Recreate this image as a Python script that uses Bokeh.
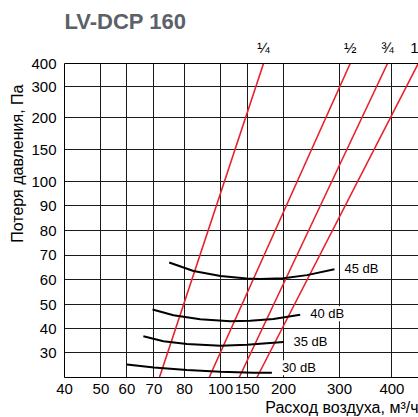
import numpy as np
from bokeh.plotting import figure
from bokeh.models import Range1d, FixedTicker, CustomJSTickFormatter, Label, LinearAxis, Title
from bokeh.embed import file_html
from bokeh.resources import INLINE

# ---- printed (non-uniform) axis scales: tick values and their grid positions ----
x_tick_values = [40, 50, 60, 70, 80, 100, 150, 200, 300, 400]
x_tick_pos = [0, 36.4, 62.4, 89.4, 120, 156, 182.7, 219, 275, 327.4]
y_tick_values = [20, 30, 40, 50, 60, 70, 80, 90, 100, 150, 200, 300, 400]
y_tick_pos = [0, 24.6, 49, 73, 98, 122.3, 147, 172, 196, 228, 259.6, 291, 314]

# ---- damper position lines (flow m3/h at 20 Pa and at 400 Pa) ----
damper_labels = ["¼", "½", "¾", "1"]
damper_flow_low = [71.8, 93.7, 135, 163.4]
damper_flow_high = [172.5, 320.4, 391.6, 450.2]
damper_p_low = 20
damper_p_high = 400

# ---- sound level curves ----
db_labels = ["45 dB", "40 dB", "35 dB", "30 dB"]
db45_flow = [75, 85, 100, 149, 168, 200, 242, 291]
db45_p = [67.0, 63.5, 61.4, 60.4, 60.2, 60.5, 61.8, 64.2]
db40_flow = [69.5, 76.4, 88.7, 118.2, 154.1, 186.2, 229.8]
db40_p = [47.9, 45.5, 43.9, 43.0, 43.2, 44.0, 45.7]
db35_flow = [66.1, 73.1, 81.3, 100, 149.4, 200]
db35_p = [36.8, 34.8, 33.6, 32.9, 33.3, 34.5]
db30_flow = [60, 70, 81.3, 100, 158.7, 184]
db30_p = [25.3, 24.1, 23.0, 22.3, 21.9, 21.9]
db_flows = [db45_flow, db40_flow, db35_flow, db30_flow]
db_ps = [db45_p, db40_p, db35_p, db30_p]


def to_axis(v, vals, pos):
    v = np.asarray(v, dtype=float)
    out = np.interp(v, vals, pos)
    hi = v > vals[-1]
    out[hi] = pos[-1] + (v[hi] - vals[-1]) * (pos[-1] - pos[-2]) / (vals[-1] - vals[-2])
    lo = v < vals[0]
    out[lo] = pos[0] + (v[lo] - vals[0]) * (pos[1] - pos[0]) / (vals[1] - vals[0])
    return out


def X(v):
    return to_axis(v, x_tick_values, x_tick_pos)


def Y(v):
    return to_axis(v, y_tick_values, y_tick_pos)


FONT = "Liberation Sans"

p = figure(frame_width=354, frame_height=314, x_range=Range1d(0, 354), y_range=Range1d(0, 314),
           output_backend="svg", toolbar_location=None,
           min_border_left=64, min_border_right=0, min_border_top=63, min_border_bottom=40)
p.background_fill_color = "white"
p.border_fill_color = "white"
p.outline_line_color = None

# main title
p.title.text = "LV-DCP 160"
p.title.text_font = FONT
p.title.text_font_size = "22px"
p.title.text_font_style = "bold"
p.title.text_color = "#5a6169"
p.title.align = "left"
p.title.standoff = 4

fmt_code = """
let i = -1;
for (let k = 0; k < pos.length; k++) { if (Math.abs(pos[k] - tick) < 0.01) { i = k; } }
return i >= 0 ? String(lab[i]) : '';
"""
xt_pos = x_tick_pos
xt_lab = [str(v) for v in x_tick_values]
yt_pos = y_tick_pos[1:]
yt_lab = [str(v) for v in y_tick_values[1:]]

p.xaxis.ticker = FixedTicker(ticks=xt_pos)
p.xaxis.formatter = CustomJSTickFormatter(args=dict(pos=xt_pos, lab=xt_lab), code=fmt_code)
p.yaxis.ticker = FixedTicker(ticks=yt_pos)
p.yaxis.formatter = CustomJSTickFormatter(args=dict(pos=yt_pos, lab=yt_lab), code=fmt_code)
for ax in (p.xaxis[0], p.yaxis[0]):
    ax.major_tick_out = 0
    ax.major_tick_in = 0
    ax.minor_tick_out = 0
    ax.minor_tick_in = 0
    ax.axis_line_color = "black"
    ax.major_label_text_font = FONT
    ax.major_label_text_font_size = "15px"
    ax.major_label_text_color = "black"
p.xaxis.major_label_standoff = 6
p.yaxis.major_label_standoff = 8

# damper opening labels as a top axis
dpos = [float(v) for v in X(damper_flow_high)]
top_axis = LinearAxis(ticker=FixedTicker(ticks=dpos),
                      formatter=CustomJSTickFormatter(args=dict(pos=dpos, lab=damper_labels), code=fmt_code),
                      major_tick_out=0, major_tick_in=0, minor_tick_out=0, minor_tick_in=0,
                      axis_line_color="black", major_label_standoff=8,
                      major_label_text_font=FONT, major_label_text_font_size="15px",
                      major_label_text_color="black")
p.add_layout(top_axis, "above")

p.xgrid.ticker = FixedTicker(ticks=xt_pos)
p.ygrid.ticker = FixedTicker(ticks=yt_pos)
for g in (p.xgrid[0], p.ygrid[0]):
    g.grid_line_color = "#1a1a1a"
    g.grid_line_width = 1
    g.grid_line_alpha = 1

# damper lines
for lo, hi in zip(damper_flow_low, damper_flow_high):
    p.line(X([lo, hi]), Y([damper_p_low, damper_p_high]), line_color="#e8202a", line_width=1.6)

# sound curves
for fl, pr in zip(db_flows, db_ps):
    p.line(X(fl), Y(pr), line_color="black", line_width=2)

# dB labels
db_yoff = [1, 1, 0, 5]
for lab, fl, pr, yo in zip(db_labels, db_flows, db_ps, db_yoff):
    p.add_layout(Label(x=float(X([fl[-1]])[0]), y=float(Y([pr[-1]])[0]), x_offset=10, y_offset=yo,
                       text=lab, text_font=FONT, text_font_size="13px", text_color="black",
                       text_baseline="middle", text_align="left",
                       background_fill_color="white"))

# axis titles as side titles
ytitle = Title(text="Потеря давления, Па", align="right", offset=21, standoff=5,
               text_font=FONT, text_font_size="16px", text_font_style="normal", text_color="black")
p.add_layout(ytitle, "left")
xtitle = Title(text="Расход воздуха, м³/ч", align="right", standoff=0,
               text_font=FONT, text_font_size="16px", text_font_style="normal", text_color="black")
p.add_layout(xtitle, "below")

open("out.html", "w").write(file_html(p, INLINE))
